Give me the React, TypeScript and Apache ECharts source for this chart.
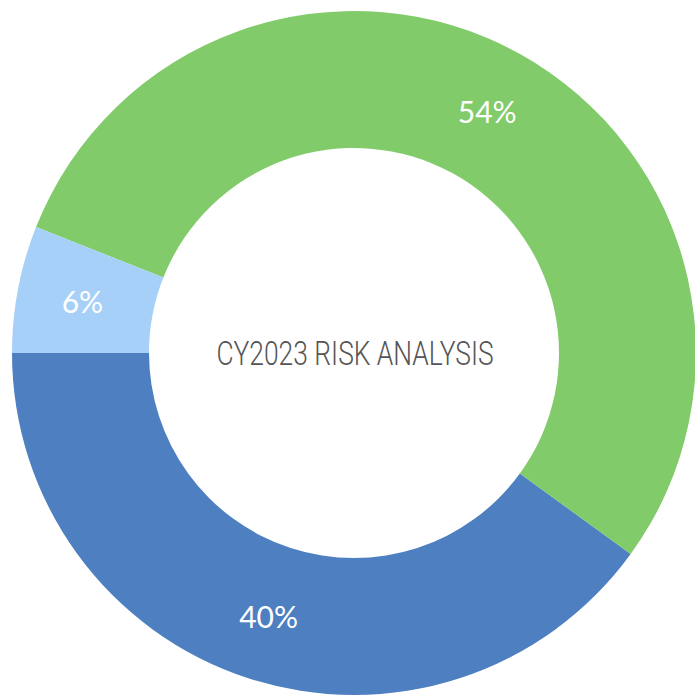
import React, { useEffect, useRef } from "react";
import * as echarts from "echarts";

const categories = ["Low", "Medium", "High"];
const values = [40, 54, 6];
const colors = ["#4E7FC1", "#82CB6A", "#A6D0F7"];
const centerTitle = "CY2023 RISK ANALYSIS";

export default function App() {
  const ref = useRef<HTMLDivElement>(null);
  useEffect(() => {
    if (!ref.current) return;
    const chart = echarts.init(ref.current, null, { renderer: "svg" });
    chart.setOption({
      animation: false,
      backgroundColor: "#ffffff",
      graphic: [
        {
          type: "text",
          x: 355,
          y: 353,
          scaleX: 0.8,
          style: {
            text: centerTitle,
            fill: "#555555",
            font: '300 33px Roboto, sans-serif',
            align: "center",
            verticalAlign: "middle",
          },
        },
      ],
      series: [
        {
          type: "pie",
          center: [354, 353],
          radius: [205, 342],
          startAngle: 180,
          clockwise: false,
          silent: true,
          label: {
            show: true,
            position: "inside",
            color: "#ffffff",
            fontSize: 30,
            fontFamily: "Lato, 'Noto Sans', sans-serif",
            formatter: (p: any) => p.value + "%",
          },
          labelLine: { show: false },
          itemStyle: { borderWidth: 0 },
          data: categories.map((c, i) => ({
            name: c,
            value: values[i],
            itemStyle: { color: colors[i] },
          })),
        },
      ],
    });
    return () => chart.dispose();
  }, []);
  return (
    <div
      ref={ref}
      style={{ position: "fixed", left: 0, top: 0, width: 695, height: 698 }}
    />
  );
}
